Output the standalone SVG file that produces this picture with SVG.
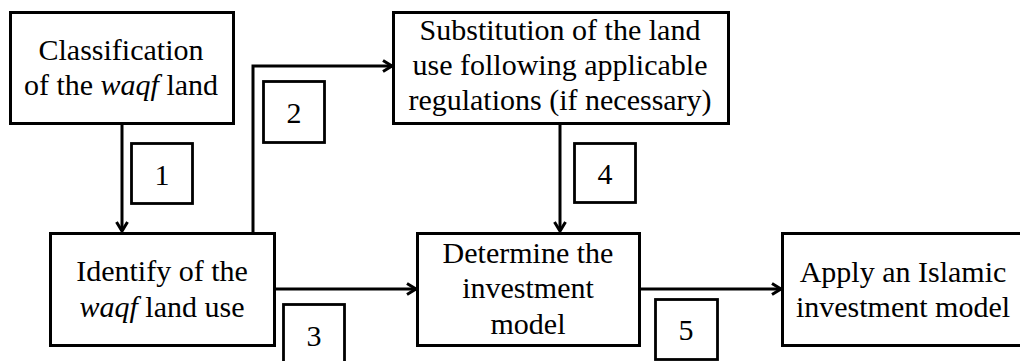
<svg xmlns="http://www.w3.org/2000/svg" width="1020" height="361" viewBox="0 0 1020 361">
<defs>
<style>
.box{fill:#fff;stroke:#000;stroke-width:3}
.lbl{fill:#fff;stroke:#000;stroke-width:2.8}
.con{fill:none;stroke:#000;stroke-width:3}
</style>
<marker id="arr" markerWidth="14" markerHeight="14" refX="11" refY="7" orient="auto" markerUnits="userSpaceOnUse">
<path d="M2,1.5 L11,7 L2,12.5" fill="none" stroke="#000" stroke-width="3"/>
</marker>
</defs>
<rect width="1020" height="361" fill="#fff"/>
<g id="connectors">
<path class="con" d="M122,123 V231" marker-end="url(#arr)"/>
<path class="con" d="M253,233 V66 H392" marker-end="url(#arr)"/>
<path class="con" d="M274,289 H416" marker-end="url(#arr)"/>
<path class="con" d="M560,123 V231" marker-end="url(#arr)"/>
<path class="con" d="M639,289 H781" marker-end="url(#arr)"/>
</g>
<g id="node-classification">
<rect class="box" x="10.5" y="12.5" width="223" height="111"/>
<text x="121" y="60" font-family="Times New Roman" font-size="30" text-anchor="middle">Classification</text>
<text x="121" y="95" font-family="Times New Roman" font-size="30" text-anchor="middle">of the <tspan font-style="italic">waqf</tspan> land</text>
</g>
<g id="node-substitution">
<rect class="box" x="393.5" y="12.5" width="335" height="111"/>
<text x="560" y="40" font-family="Times New Roman" font-size="30" text-anchor="middle">Substitution of the land</text>
<text x="560" y="75" font-family="Times New Roman" font-size="30" text-anchor="middle">use following applicable</text>
<text x="560" y="110" font-family="Times New Roman" font-size="30" text-anchor="middle">regulations (if necessary)</text>
</g>
<g id="node-identify">
<rect class="box" x="50.5" y="233.5" width="224" height="112"/>
<text x="162" y="281" font-family="Times New Roman" font-size="30" text-anchor="middle">Identify of the</text>
<text x="162" y="317" font-family="Times New Roman" font-size="30" text-anchor="middle"><tspan font-style="italic">waqf</tspan> land use</text>
</g>
<g id="node-determine">
<rect class="box" x="417.5" y="233.5" width="222" height="112"/>
<text x="528" y="263" font-family="Times New Roman" font-size="30" text-anchor="middle">Determine the</text>
<text x="528" y="298" font-family="Times New Roman" font-size="30" text-anchor="middle">investment</text>
<text x="528" y="334" font-family="Times New Roman" font-size="30" text-anchor="middle">model</text>
</g>
<g id="node-apply">
<rect class="box" x="782.5" y="233.5" width="250" height="112"/>
<text x="903" y="282" font-family="Times New Roman" font-size="30" text-anchor="middle">Apply an Islamic</text>
<text x="903" y="317" font-family="Times New Roman" font-size="30" text-anchor="middle">investment model</text>
</g>
<g id="label-1">
<rect class="lbl" x="131.5" y="143.5" width="61" height="60"/>
<text x="162" y="185" font-family="Times New Roman" font-size="30" text-anchor="middle">1</text>
</g>
<g id="label-2">
<rect class="lbl" x="263.5" y="81.5" width="61" height="61"/>
<text x="294" y="123" font-family="Times New Roman" font-size="30" text-anchor="middle">2</text>
</g>
<g id="label-3">
<rect class="lbl" x="283.5" y="304.5" width="61" height="62"/>
<text x="314" y="346" font-family="Times New Roman" font-size="30" text-anchor="middle">3</text>
</g>
<g id="label-4">
<rect class="lbl" x="574.5" y="143.5" width="61" height="59"/>
<text x="605" y="184" font-family="Times New Roman" font-size="30" text-anchor="middle">4</text>
</g>
<g id="label-5">
<rect class="lbl" x="655.5" y="299.5" width="62" height="60"/>
<text x="686" y="340" font-family="Times New Roman" font-size="30" text-anchor="middle">5</text>
</g>
</svg>
